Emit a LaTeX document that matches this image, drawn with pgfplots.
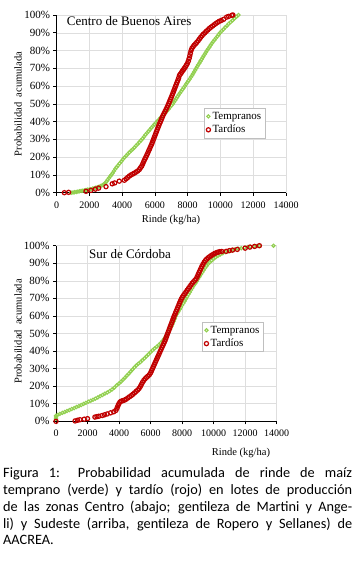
\documentclass[border=0pt]{standalone}
\usepackage{fontspec}
\setmainfont{Liberation Serif}
\newfontfamily\calibri{Carlito}
\usepackage{pgfplots}
\pgfplotsset{compat=1.18}
\definecolor{tgreen}{HTML}{92D050}
\definecolor{tred}{HTML}{C00000}
\pgfplotsset{
  cdf/.style={
    scale only axis, clip=false,
    xmin=0, xmax=14000, ymin=0, ymax=100,
    xtick={0,2000,...,14000}, ytick={0,10,...,100},
    yticklabel={\pgfmathprintnumber{\tick}\%},
    /pgf/number format/assume math mode=true,
    /pgf/number format/set thousands separator={},
    scaled x ticks=false,
    axis x line*=bottom, axis y line*=left,
    axis line style={-, black, line width=0.6pt},
    grid=major, major grid style={draw=black!13, line width=0.5pt},
    tick style={black, line width=0.6pt}, tick align=outside, major tick length=3pt,
    xticklabel style={font=\fontsize{10}{12}\selectfont, yshift=-2.5pt},
    yticklabel style={font=\fontsize{11}{12}\selectfont},
    legend cell align=left,
    legend style={anchor=north west, draw=black!25, line width=0.5pt,
      font=\fontsize{11}{12}\selectfont, inner xsep=2pt, inner ysep=1.5pt, row sep=0.5pt},
  },
  gser/.style={only marks, mark=o, mark size=1.6pt, color=tgreen, mark options={line width=1.1pt}},
  rser/.style={only marks, mark=o, mark size=2.1pt, color=tred, mark options={line width=1.2pt}},
}
\begin{document}
\begin{tikzpicture}
\useasboundingbox (0pt,0pt) rectangle (359pt,561pt);
% ---------- Top: Centro de Buenos Aires ----------
\begin{axis}[cdf, at={(56.5pt,368.3pt)}, anchor=south west, width=229.5pt, height=177.7pt,
  legend style={at={(0.643,0.475)}}]
\addplot[gser] table {
900 0.0
1000 0.1
1100 0.3
1200 0.4
1300 0.6
1400 0.8
1500 1.0
1600 1.1
1700 1.3
1800 1.5
1900 1.7
2000 1.8
2100 2.0
2200 2.3
2300 2.5
2400 2.8
2500 3.0
2600 3.4
2700 3.8
2800 4.3
2900 4.8
2980 5.5
3050 6.3
3120 7.2
3200 8.2
3280 9.2
3350 10.0
3420 11.0
3500 12.2
3580 13.3
3660 14.3
3750 15.3
3850 16.5
3950 17.6
4050 18.7
4150 19.8
4250 20.8
4350 21.8
4450 22.7
4550 23.6
4650 24.5
4750 25.4
4850 26.4
4950 27.4
5050 28.4
5150 29.4
5250 30.4
5340 31.5
5430 32.6
5520 33.6
5610 34.6
5700 35.5
5790 36.5
5880 37.5
5970 38.5
6060 39.3
6150 40.2
6250 41.2
6350 42.2
6450 43.2
6550 44.1
6650 45.0
6740 46.0
6830 47.0
6920 48.0
7010 49.0
7100 50.0
7170 51.0
7240 52.0
7310 53.0
7380 54.0
7450 55.0
7530 56.0
7600 57.0
7680 58.0
7750 59.0
7830 60.0
7900 61.0
7980 62.0
8050 63.0
8130 64.0
8200 65.0
8270 66.0
8330 67.0
8400 68.0
8460 69.0
8520 70.0
8590 71.0
8650 72.0
8720 73.0
8780 74.0
8850 75.0
8920 76.0
8980 77.0
9050 78.0
9110 79.0
9180 80.0
9250 81.0
9330 82.0
9400 83.0
9480 84.0
9550 85.0
9640 86.0
9720 87.0
9810 88.0
9900 89.0
9980 90.0
10080 91.0
10190 92.0
10290 93.0
10400 94.0
10500 95.0
10620 96.0
10740 97.0
10860 98.0
10980 99.0
11100 100.0
};
\addlegendentry{Tempranos}
\addplot[rser] table {
480 0.0
740 0.2
1800 0.8
2100 1.3
2370 2.0
2570 2.6
3020 3.4
3400 5.0
3550 5.5
3830 6.5
4140 7.0
4250 7.8
4350 8.6
4450 9.4
4550 10.0
4650 10.5
4750 11.0
4850 11.6
4950 12.2
5050 13.0
5120 14.0
5200 15.0
5260 16.2
5320 17.5
5380 18.7
5440 19.8
5500 21.0
5560 22.2
5620 23.5
5680 24.7
5740 26.0
5800 27.2
5850 28.4
5900 29.6
5950 30.8
6000 32.0
6050 33.2
6100 34.4
6150 35.6
6200 36.8
6250 38.0
6300 39.1
6350 40.2
6400 41.3
6450 42.4
6500 43.5
6560 44.6
6620 45.7
6680 46.8
6740 48.0
6800 49.2
6850 50.3
6900 51.4
6950 52.5
7000 53.6
7050 54.8
7100 56.0
7150 57.2
7200 58.4
7250 59.6
7300 60.8
7350 62.0
7400 63.2
7450 64.5
7500 66.0
7560 66.8
7620 67.6
7680 68.4
7740 69.2
7800 70.0
7860 70.8
7920 71.7
7980 72.7
8040 74.0
8090 75.5
8130 77.0
8170 78.5
8210 80.0
8260 81.2
8330 82.2
8400 83.0
8480 83.8
8560 84.6
8640 85.5
8720 86.5
8800 87.5
8880 88.4
8960 89.2
9050 90.0
9140 90.8
9230 91.6
9320 92.4
9420 93.1
9520 93.8
9620 94.5
9720 95.2
9820 95.8
9920 96.4
10050 96.9
10200 97.6
10380 98.8
10500 99.2
10690 99.8
10760 100.0
};
\addlegendentry{Tardíos}
\end{axis}
% ---------- Bottom: Sur de Córdoba ----------
\begin{axis}[cdf, at={(56pt,139.7pt)}, anchor=south west, width=220.7pt, height=175.6pt,
  legend style={at={(0.662,0.565)}}]
\addplot[gser] table {
0 1.5
0 2.5
0 3.2
100 3.6
250 4.2
400 4.8
550 5.3
700 5.9
850 6.4
1000 7.0
1150 7.5
1300 8.1
1450 8.7
1600 9.3
1750 9.9
1900 10.5
2050 11.2
2200 11.7
2350 12.3
2500 12.9
2650 13.6
2800 14.3
2950 15.0
3100 15.7
3250 16.4
3400 17.2
3550 18.1
3700 19.2
3850 20.5
4000 21.6
4120 22.5
4250 23.6
4370 24.8
4500 26.0
4620 27.1
4740 28.3
4860 29.5
4980 30.8
5100 31.9
5220 32.8
5350 33.7
5480 34.8
5610 35.9
5740 37.0
5870 38.2
6000 39.4
6130 40.5
6260 41.5
6390 42.5
6520 43.5
6640 44.6
6760 45.8
6870 47.0
6970 48.3
7060 49.6
7150 51.0
7240 52.5
7320 54.0
7400 55.5
7470 57.0
7540 58.5
7600 60.0
7680 61.3
7760 62.5
7840 63.7
7920 64.9
8000 66.1
8080 67.3
8160 68.5
8240 69.7
8320 71.0
8400 72.3
8480 73.5
8560 74.7
8650 76.0
8740 77.3
8830 78.5
8920 79.7
9010 81.0
9100 82.3
9190 83.6
9280 84.9
9370 86.2
9460 87.4
9550 88.5
9650 89.6
9760 90.6
9880 91.6
10000 92.5
10130 93.4
10270 94.2
10420 95.0
10580 95.7
10760 96.3
10950 96.9
11150 97.4
11350 97.9
11550 98.3
11750 98.6
11950 98.9
12150 99.2
12350 99.4
12550 99.6
12750 99.8
12900 99.9
13800 100.0
};
\addlegendentry{Tempranos}
\addplot[rser] table {
0 0.0
1210 0.2
1370 0.6
1520 0.9
1790 1.2
2000 1.5
2470 2.4
2600 2.7
2720 2.9
2930 3.3
3080 3.7
3250 4.2
3460 4.8
3660 5.4
3800 6.2
3870 7.5
3930 8.8
3990 10.0
4060 11.0
4150 11.5
4250 11.8
4350 12.1
4450 12.6
4560 13.3
4670 14.0
4780 14.7
4880 15.4
4980 16.2
5080 17.0
5180 17.8
5270 18.7
5350 19.8
5420 21.0
5490 22.2
5570 23.3
5650 24.2
5740 25.0
5830 25.7
5920 26.5
6000 27.6
6060 28.8
6120 30.0
6180 31.2
6240 32.4
6300 33.6
6360 34.8
6420 36.0
6480 37.2
6540 38.4
6600 39.6
6660 40.8
6720 42.0
6780 43.2
6840 44.4
6900 45.6
6950 46.8
7000 48.0
7050 49.2
7100 50.4
7150 51.6
7200 52.8
7250 54.0
7300 55.2
7350 56.4
7400 57.6
7450 58.8
7500 60.0
7560 61.2
7610 62.4
7670 63.6
7720 64.8
7780 66.0
7830 67.2
7890 68.4
7950 69.6
8010 70.6
8080 71.6
8160 72.6
8240 73.6
8320 74.6
8400 75.6
8480 76.6
8560 77.6
8640 78.6
8720 79.4
8800 80.2
8880 81.0
8950 82.2
9010 83.4
9070 84.6
9130 85.8
9190 87.0
9250 88.2
9320 89.4
9400 90.6
9480 91.6
9560 92.4
9650 93.1
9740 93.7
9830 94.3
9920 94.8
10010 95.3
10100 95.7
10200 96.1
10300 96.4
10400 96.6
10520 96.7
10800 96.8
11000 97.2
11200 97.5
11500 97.9
12000 98.6
12300 99.2
12600 99.6
12900 100.0
};
\addlegendentry{Tardíos}
\end{axis}
% ---------- texts ----------
\node[anchor=west, inner sep=0pt, font=\fontsize{13}{15}\selectfont] at (66.7pt,540.3pt) {Centro de Buenos Aires};
\node[anchor=west, inner sep=0pt, font=\fontsize{13}{15}\selectfont] at (89pt,307pt) {Sur de Córdoba};
\node[rotate=90, inner sep=0pt, font=\fontsize{10.5}{12}\selectfont] at (18pt,457pt) {Probabilidad\ \ acumulada};
\node[rotate=90, inner sep=0pt, font=\fontsize{10.5}{12}\selectfont] at (18pt,229.5pt) {Probabilidad\ \ acumulada};
\node[inner sep=0pt, font=\fontsize{10.5}{12}\selectfont] at (171pt,341pt) {Rinde (kg/ha)};
\node[inner sep=0pt, font=\fontsize{10.5}{12}\selectfont] at (241pt,108pt) {Rinde (kg/ha)};
\node[anchor=base west, inner sep=0pt] at (3pt,83pt) {\parbox[t]{349pt}{\calibri\fontsize{14.3}{16.7}\selectfont
\makebox[349pt][s]{Figura 1: Probabilidad acumulada de rinde de maíz}\\
\makebox[349pt][s]{temprano (verde) y tardío (rojo) en lotes de producción}\\
\makebox[349pt][s]{de las zonas Centro (abajo; gentileza de Martini y Ange-}\\
\makebox[349pt][s]{li) y Sudeste (arriba, gentileza de Ropero y Sellanes) de}\\
AACREA.}};
\end{tikzpicture}
\end{document}
